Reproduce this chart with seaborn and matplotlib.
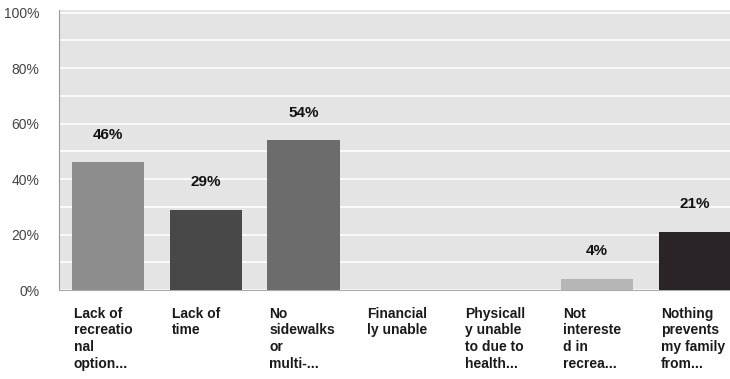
import matplotlib
matplotlib.use('Agg')
import matplotlib.pyplot as plt
import seaborn as sns
import pandas as pd

# values
categories = ["Lack of\nrecreatio\nnal\noption...", "Lack of\ntime",
              "No\nsidewalks\nor\nmulti-...", "Financial\nly unable",
              "Physicall\ny unable\nto due to\nhealth...",
              "Not\nintereste\nd in\nrecrea...",
              "Nothing\nprevents\nmy family\nfrom..."]
percent = [46, 29, 54, 0, 0, 4, 21]
bar_labels = ["46%", "29%", "54%", "", "", "4%", "21%"]
bar_colors = ["#8d8d8d", "#484848", "#6c6c6c", "#999999", "#999999", "#b6b6b6", "#2a2429"]
y_ticks = [0, 20, 40, 60, 80, 100]

df = pd.DataFrame({"cat": categories, "pct": percent})

sns.set_style("white")
plt.rcParams['font.family'] = ['Liberation Sans', 'DejaVu Sans']

fig = plt.figure(figsize=(7.3, 3.79), dpi=100)
W, H = 730, 379
ax = fig.add_axes([59 / W, 1 - 290 / H, 685 / W, 280 / H])
ax.set_facecolor("#e4e4e4")

sns.barplot(data=df, x="cat", y="pct", hue="cat", palette=bar_colors,
            legend=False, width=0.74, saturation=1, linewidth=0,
            ax=ax, zorder=3)

ax.set_ylim(0, 101)
ax.set_xlim(-0.5, len(categories) - 0.5)
ax.set_yticks(y_ticks)
ax.set_yticklabels([f"{v}%" for v in y_ticks], fontsize=10, color="#444444")
ax.set_yticks(range(10, 100, 20), minor=True)
ax.grid(axis="y", which="both", color="white", linewidth=1.2, zorder=1)
ax.set_axisbelow(True)

# x labels left aligned at the bar's left edge
ax.set_xticks([i - 0.35 for i in range(len(categories))])
ax.set_xticklabels(categories, ha="left", va="top", fontsize=10,
                   fontweight="bold", color="#1a1a1a", linespacing=1.25)
ax.tick_params(axis="x", length=0, pad=12)
ax.tick_params(axis="y", length=0, pad=14)

for i, (v, lab) in enumerate(zip(percent, bar_labels)):
    if lab:
        ax.text(i, v + 7.5, lab, ha="center", va="bottom", fontsize=11,
                fontweight="bold", color="#111111")

for s in ["top", "right"]:
    ax.spines[s].set_visible(False)
ax.spines["left"].set_color("#999999")
ax.spines["bottom"].set_color("#aaaaaa")
ax.set_xlabel("")
ax.set_ylabel("")

fig.savefig("out.png", dpi=100)
